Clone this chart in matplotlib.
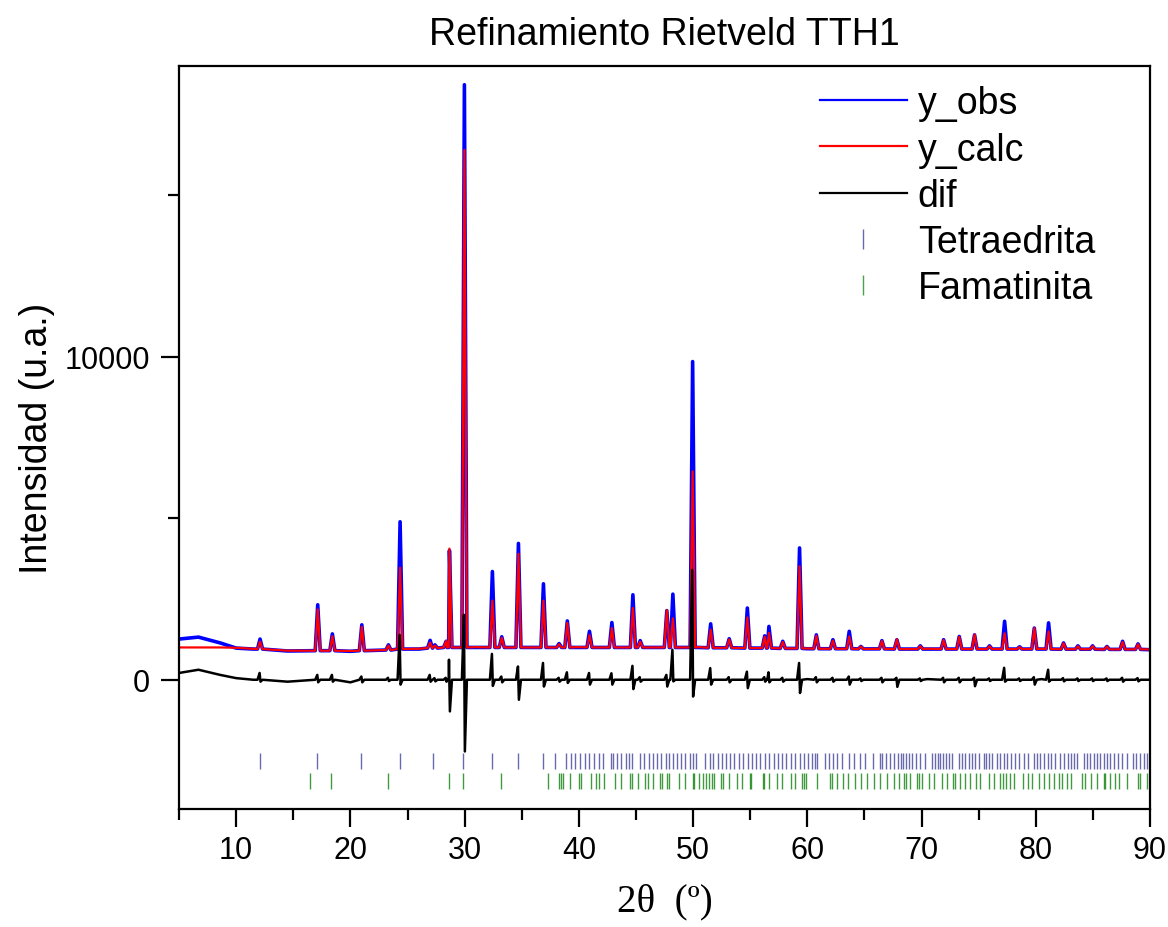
import numpy as np
import matplotlib
matplotlib.use("Agg")
import matplotlib.pyplot as plt
from matplotlib.lines import Line2D

plt.rcParams['font.family'] = ['Liberation Sans', 'DejaVu Sans']

# -----------------------------
#  Data
# -----------------------------
# smooth background between the peaks
bg_x    = [5.0, 6.7, 8.6, 10.0, 11.5, 14.5, 20.0, 26.0, 31.0, 40.0, 50.5, 60.0, 70.5, 80.5, 90.0]
bg_obs  = [1260, 1320, 1140, 980, 950, 890, 880, 950, 1000, 1000, 1000, 960, 950, 950, 930]
bg_calc = [1000, 1000, 1000, 990, 960, 900, 890, 960, 1010, 1010, 1010, 970, 960, 960, 940]
bg_dif  = [210, 310, 150, 50, 0, -60, -80, 0, 0, 0, 0, 20, 20, 20, 0]

# peaks: position, base level, observed top, calculated top, difference up / down
peak_pos = [12.09, 17.14, 18.42, 21.00, 23.33, 24.35, 26.98, 27.40, 28.38, 28.67,
            29.98, 32.43, 33.25, 34.71, 36.90, 38.27, 38.99, 40.93, 42.89, 44.73,
            45.37, 47.70, 48.23, 49.96, 51.54, 53.16, 54.75, 56.27, 56.64, 57.85,
            59.32, 60.79, 62.24, 63.67, 64.69, 66.53, 67.84, 69.89, 71.93, 73.30,
            74.64, 75.95, 77.27, 78.58, 79.87, 81.12, 82.43, 83.69, 84.97, 86.23,
            87.60, 88.95]
peak_base = [950, 900, 900, 900, 920, 950, 980, 980, 1000, 1000,
             1000, 1000, 1000, 1000, 1000, 1000, 1000, 1000, 1000, 1000,
             1000, 1000, 1000, 1000, 990, 990, 980, 980, 980, 970,
             970, 960, 960, 960, 955, 955, 950, 950, 950, 950,
             950, 950, 950, 950, 950, 950, 945, 945, 945, 940,
             940, 940]
obs_top = [1260, 2320, 1420, 1700, 1080, 4890, 1220, 1080, 1190, 4000,
           18420, 3350, 1330, 4220, 2970, 1120, 1820, 1500, 1770, 2630,
           1210, 2140, 2650, 9850, 1730, 1270, 2220, 1360, 1650, 1190,
           4080, 1390, 1240, 1500, 1030, 1210, 1240, 1050, 1240, 1340,
           1390, 1050, 1810, 1020, 1600, 1760, 1140, 1050, 1050, 1030,
           1190, 1110]
calc_top = [1180, 2180, 1350, 1640, 1060, 3470, 1150, 1060, 1200, 4060,
            16400, 2450, 1300, 3900, 2450, 1100, 1760, 1380, 1600, 2220,
            1180, 2150, 1900, 6450, 1550, 1250, 1930, 1330, 1450, 1170,
            3510, 1360, 1210, 1340, 1030, 1200, 1250, 1040, 1230, 1330,
            1400, 1040, 1440, 1010, 1600, 1500, 1130, 1040, 1040, 1030,
            1170, 1100]
dif_hi = [210, 150, 150, 100, 60, 1390, 150, 50, 60, 620,
          2010, 800, 100, 410, 520, 60, 230, 210, 200, 430,
          80, 150, 930, 3400, 360, 80, 250, 80, 230, 60,
          520, 80, 60, 100, 40, 60, 60, 40, 60, 60,
          60, 40, 370, 40, 80, 310, 50, 40, 40, 40,
          60, 50]
dif_lo = [-60, -80, -60, -80, -40, -150, -60, -50, -60, -980,
          -2220, -190, -80, -620, -210, -60, -100, -150, -150, -290,
          -60, -210, -50, -520, -150, -80, -260, -60, -80, -60,
          -410, -80, -60, -150, -40, -80, -220, -40, -80, -80,
          -200, -40, -60, -40, -150, -60, -50, -40, -40, -40,
          -60, -50]

# reflection positions (2theta) of each phase
tetra_pos = [12.07, 17.10, 20.97, 24.30, 27.27, 29.89, 32.38, 34.65, 36.84, 37.92,
             38.86, 39.29, 39.70, 40.11, 40.52, 40.93, 41.34, 41.75, 42.15, 42.83,
             42.97, 43.32, 43.73, 44.14, 44.37, 44.67, 45.37, 45.72, 46.10, 46.47,
             46.88, 47.23, 47.64, 47.93, 48.23, 48.58, 48.96, 49.31, 49.75, 49.95,
             50.24, 51.06, 51.44, 51.73, 52.14, 52.52, 52.90, 53.25, 53.60, 53.98,
             54.33, 54.77, 55.15, 55.50, 55.82, 56.31, 56.67, 57.04, 57.39, 57.77,
             58.15, 58.56, 58.88, 59.32, 59.67, 60.05, 60.40, 60.63, 60.84, 61.51,
             61.86, 62.24, 62.59, 63.03, 63.61, 64.05, 64.63, 65.07, 65.71, 66.33,
             66.53, 66.88, 67.20, 67.55, 67.90, 68.22, 68.36, 68.63, 68.86, 69.15,
             69.53, 69.88, 70.32, 70.90, 71.14, 71.43, 71.63, 71.92, 72.16, 72.36,
             72.65, 73.24, 73.53, 73.82, 74.11, 74.41, 74.70, 74.99, 75.43, 75.66,
             75.87, 76.16, 76.60, 76.89, 77.18, 77.47, 77.85, 78.14, 78.49, 78.93,
             79.31, 79.86, 80.10, 80.33, 80.68, 81.06, 81.32, 81.70, 82.08, 82.43,
             82.78, 83.07, 83.37, 83.60, 84.24, 84.48, 84.77, 85.06, 85.35, 85.64,
             85.94, 86.23, 86.52, 86.87, 87.16, 87.54, 87.98, 88.50, 88.74, 89.09,
             89.44, 89.73]
fama_pos = [16.44, 18.34, 23.30, 28.67, 29.84, 33.19, 37.28, 38.30, 38.48, 38.65,
            39.24, 40.02, 40.17, 41.05, 41.51, 41.72, 42.21, 43.18, 43.67, 44.49,
            44.67, 45.22, 45.80, 46.04, 46.53, 47.06, 47.27, 47.70, 47.85, 48.73,
            49.25, 49.95, 50.04, 50.48, 50.86, 51.15, 51.35, 51.64, 51.85, 52.43,
            52.61, 53.16, 53.83, 54.27, 54.94, 55.06, 56.11, 56.23, 56.61, 57.34,
            57.77, 58.56, 58.94, 59.53, 59.73, 59.88, 60.84, 61.95, 62.15, 62.59,
            63.09, 63.52, 64.20, 64.69, 65.22, 65.80, 66.39, 66.97, 67.55, 67.99,
            68.42, 68.66, 68.95, 69.59, 69.82, 70.03, 70.61, 71.05, 71.78, 72.22,
            72.74, 72.89, 73.38, 73.82, 74.26, 74.79, 75.14, 75.87, 76.30, 76.89,
            77.12, 77.41, 77.76, 78.05, 78.87, 79.28, 79.66, 80.24, 80.68, 81.12,
            81.62, 82.00, 82.29, 82.73, 83.08, 84.04, 84.33, 84.83, 85.35, 85.94,
            86.08, 86.46, 86.96, 87.25, 87.98, 88.91, 89.15, 89.73]

# -----------------------------
#  Build the traces
# -----------------------------
hw = 0.22   # half width of a peak foot
pp = np.array(peak_pos)


def trace(bg_y, tops):
    x = np.concatenate([bg_x, pp - hw, pp, pp + hw])
    y = np.concatenate([bg_y, peak_base, tops, peak_base])
    order = np.argsort(x)
    return x[order], y[order]


x_obs, y_obs = trace(bg_obs, obs_top)
x_calc, y_calc = trace(bg_calc, calc_top)

zeros = np.zeros(len(pp))
x_dif = np.concatenate([bg_x, pp - hw, pp - 0.04, pp + 0.04, pp + hw])
y_dif = np.concatenate([bg_dif, zeros, dif_hi, dif_lo, zeros])
order = np.argsort(x_dif)
x_dif, y_dif = x_dif[order], y_dif[order]

# -----------------------------
#  Plot
# -----------------------------
fig = plt.figure(figsize=(11.68, 9.28), dpi=100)
ax = fig.add_axes([0.1533, 0.1272, 0.8313, 0.8006])

tetra_col = '#2a2a8c'
fama_col = '#007a00'

ax.plot(x_obs, y_obs, color='#0000ff', lw=2.6, label='y_obs')
ax.plot(x_calc, y_calc, color='#ff0000', lw=1.6, label='y_calc')
ax.plot(x_dif, y_dif, color='black', lw=1.8, label='dif')
ax.vlines(tetra_pos, -2760, -2260, color=tetra_col, lw=1.0, alpha=0.7)
ax.vlines(fama_pos, -3380, -2880, color=fama_col, lw=1.0, alpha=0.75)

ax.set_xlim(5, 90)
ax.set_ylim(-4000, 19000)
ax.set_xticks(range(10, 91, 10))
ax.set_xticks(range(5, 90, 10), minor=True)
ax.set_yticks([0, 10000])
ax.set_yticks([5000, 15000], minor=True)
ax.tick_params(axis='both', which='major', direction='out', length=13, width=1.6)
ax.tick_params(axis='both', which='minor', direction='out', length=8, width=1.6)
ax.tick_params(axis='y', labelsize=22, pad=8)
ax.tick_params(axis='x', labelsize=22, pad=6)
for s in ax.spines.values():
    s.set_linewidth(1.6)

ax.set_title('Refinamiento Rietveld TTH1', fontsize=27, pad=16)
ax.set_ylabel('Intensidad (u.a.)', fontsize=27, labelpad=7)
ax.set_xlabel('2θ  (º)', fontsize=28, family=['Liberation Serif', 'DejaVu Serif'], labelpad=12)

handles = [
    Line2D([], [], color='#0000ff', lw=1.6),
    Line2D([], [], color='#ff0000', lw=1.6),
    Line2D([], [], color='black', lw=1.6),
    Line2D([], [], color=tetra_col, marker='|', ls='none', markersize=14, alpha=0.7),
    Line2D([], [], color=fama_col, marker='|', ls='none', markersize=14, alpha=0.7),
]
labels = ['y_obs', 'y_calc', 'dif', 'Tetraedrita', 'Famatinita']
ax.legend(handles, labels, loc='upper left', bbox_to_anchor=(0.645, 0.994),
          frameon=False, fontsize=27, handlelength=2.3, handletextpad=0.3,
          labelspacing=0.27, borderaxespad=0)

fig.savefig('out.png', dpi=100)
